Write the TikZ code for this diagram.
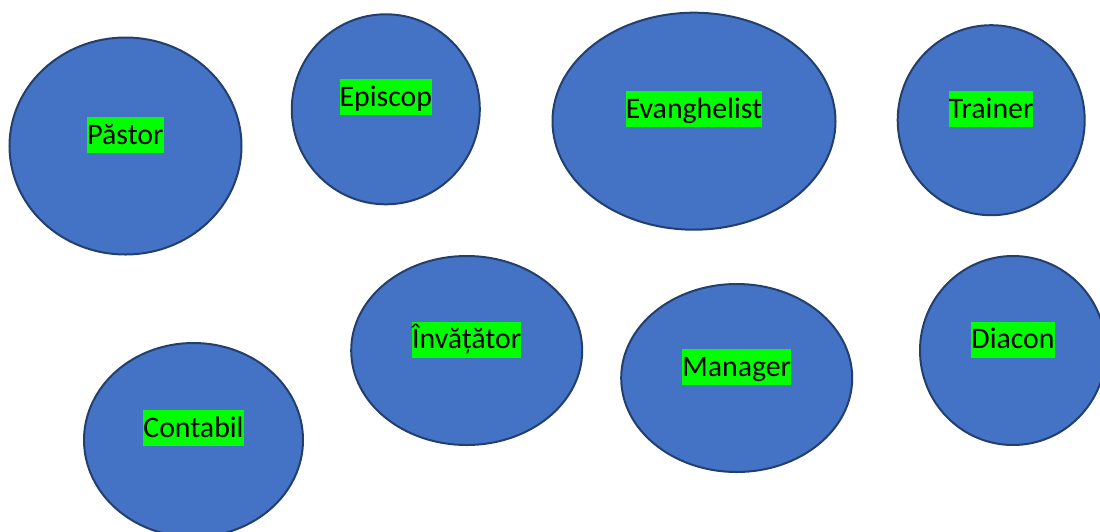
\documentclass[tikz,border=0pt]{standalone}
\usepackage{fontspec}
\setmainfont{Carlito}
\usetikzlibrary{shapes.geometric}
\definecolor{bubblefill}{HTML}{4472C4}
\definecolor{bubbleline}{HTML}{233F6E}
\definecolor{marker}{HTML}{00FF00}
\begin{document}
\begin{tikzpicture}[x=1pt, y=-1pt,
  bubble/.style={ellipse, fill=bubblefill, draw=bubbleline, line width=2pt, inner sep=0pt},
  tag/.style={fill=marker, text=black, inner sep=0pt, text height=27pt, text depth=9pt,
    font=\fontsize{29.8}{36}\selectfont}]
\useasboundingbox (0,0) rectangle (1100,531);

%top row
\node[bubble, minimum width=232pt, minimum height=217pt] (pastor) at (125.5,146) {};
\node[bubble, minimum width=188pt, minimum height=190pt] (episcop) at (385.8,109.3) {};
\node[bubble, minimum width=283pt, minimum height=217pt] (evanghelist) at (694,121.2) {};
\node[bubble, minimum width=187pt, minimum height=190pt] (trainer) at (991.2,120.2) {};

%bottom row
\node[bubble, minimum width=219pt, minimum height=194pt] (contabil) at (193.5,440) {};
\node[bubble, minimum width=231pt, minimum height=189pt] (invatator) at (466.7,350.5) {};
\node[bubble, minimum width=231pt, minimum height=188pt] (manager) at (736.7,378) {};
\node[bubble, minimum width=186pt, minimum height=189pt] (diacon) at (1013,350.5) {};

%labels
\node[tag] (tpastor) at ([yshift=11pt]pastor.center) {Păstor};
\node[tag] (tepiscop) at ([yshift=12pt]episcop.center) {Episcop};
\node[tag] (tevanghelist) at ([yshift=12pt]evanghelist.center) {Evanghelist};
\node[tag] (ttrainer) at ([yshift=11pt]trainer.center) {Trainer};
\node[tag] (tcontabil) at ([yshift=12pt]contabil.center) {Contabil};
\node[tag] (tinvatator) at ([yshift=11pt]invatator.center) {Învățător};
\node[tag] (tmanager) at ([yshift=11pt]manager.center) {Manager};
\node[tag] (tdiacon) at ([yshift=11pt]diacon.center) {Diacon};

\end{tikzpicture}
\end{document}
